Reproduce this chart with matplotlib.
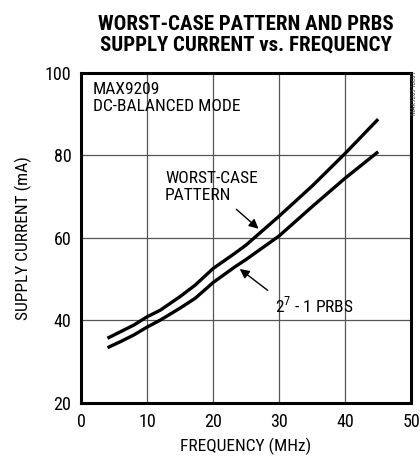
import matplotlib
matplotlib.use("Agg")
import matplotlib.pyplot as plt
from matplotlib import font_manager

names = {f.name for f in font_manager.fontManager.ttflist}
body = next((n for n in ['Roboto Condensed', 'Archivo Narrow', 'Barlow Semi Condensed'] if n in names), 'DejaVu Sans')
head = next((n for n in ['Roboto Condensed', 'Archivo Narrow', 'Barlow Condensed'] if n in names), 'DejaVu Sans')
plt.rcParams['font.family'] = [body, 'DejaVu Sans']
plt.rcParams['mathtext.fontset'] = 'custom'
plt.rcParams['mathtext.rm'] = body

freq_worst = [4, 6, 8, 10, 12, 15, 17.3, 20, 23.3, 25, 30, 35, 40, 45]
current_worst = [35.7, 37.3, 38.9, 40.9, 42.5, 45.8, 48.6, 52.6, 56.3, 58.3, 65.3, 72.6, 80.5, 88.8]
freq_prbs = [4, 6, 8, 10, 12, 15, 17.3, 20, 23.3, 25, 30, 35, 40, 45]
current_prbs = [33.4, 34.9, 36.5, 38.4, 40.1, 43.0, 45.4, 49.2, 53.0, 54.8, 60.5, 67.6, 74.5, 80.9]
xticks = [0, 10, 20, 30, 40, 50]
yticks = [20, 40, 60, 80, 100]

fig = plt.figure(figsize=(4.2, 4.59), dpi=100)
ax = fig.add_axes([0.193, 0.122, 0.786, 0.719])
ax.plot(freq_worst, current_worst, color='black', lw=2.4, solid_capstyle='butt')
ax.plot(freq_prbs, current_prbs, color='black', lw=2.4, solid_capstyle='butt')
ax.set_xlim(0, 50)
ax.set_ylim(20, 100)
ax.set_xticks(xticks)
ax.set_yticks(yticks)
ax.grid(True, color='#555555', lw=0.9)
ax.tick_params(length=0, labelsize=13, pad=7)
for s in ax.spines.values():
    s.set_linewidth(2.2)
ax.set_xlabel('FREQUENCY (MHz)', fontsize=12.5, labelpad=5)
ax.set_ylabel('SUPPLY CURRENT (mA)', fontsize=12.5, labelpad=9)

fig.text(0.585, 0.967, 'WORST-CASE PATTERN AND PRBS\nSUPPLY CURRENT vs. FREQUENCY',
         ha='center', va='top', fontsize=15, fontweight='heavy', linespacing=1.1,
         family=[head, 'DejaVu Sans'])

ax.text(1.8, 97.8, 'MAX9209\nDC-BALANCED MODE', ha='left', va='top', fontsize=12.5,
        linespacing=1.2)
ax.text(12.7, 76.3, 'WORST-CASE\nPATTERN', ha='left', va='top', fontsize=12.5,
        linespacing=1.2)
ax.annotate('', xy=(27.2, 61.8), xytext=(23.2, 67.4),
            arrowprops=dict(arrowstyle='-|>', color='black', lw=1.0, mutation_scale=14))
ax.text(29.4, 43.8, '2$^7$ - 1 PRBS', ha='left', va='center', fontsize=12.5)
ax.annotate('', xy=(23.7, 52.9), xytext=(28.6, 46.9),
            arrowprops=dict(arrowstyle='-|>', color='black', lw=1.0, mutation_scale=14))

fig.text(0.988, 0.845, 'MAX9209 toc01', rotation=90, ha='center', va='top', fontsize=5, color='#444444')

fig.savefig('out.png', dpi=100)
